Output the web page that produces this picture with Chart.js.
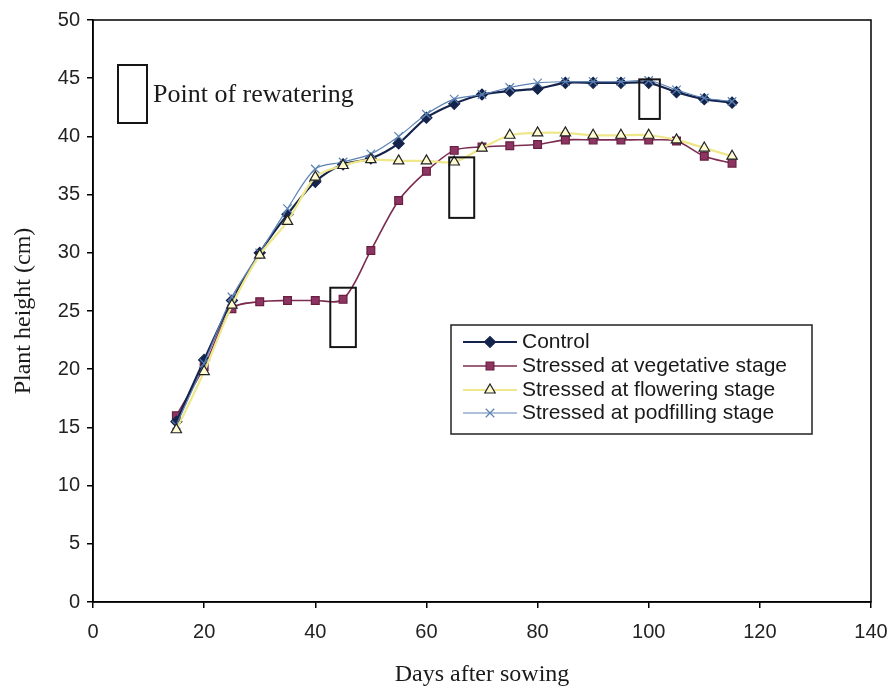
<!DOCTYPE html>
<html>
<head>
<meta charset="utf-8">
<script src="https://cdn.jsdelivr.net/npm/chart.js@4/dist/chart.umd.min.js"></script>
<style>
  html, body { margin: 0; padding: 0; background: #ffffff; }
  #wrap { width: 890px; height: 693px; }
</style>
</head>
<body>
<div id="wrap"><canvas id="chart" width="890" height="693"></canvas></div>
<script>
// Plant height (cm) measured every 5 days after sowing
const days = [15, 20, 25, 30, 35, 40, 45, 50, 55, 60, 65, 70, 75, 80, 85, 90, 95, 100, 105, 110, 115];
const control    = [15.5, 20.8, 25.9, 30.0, 33.3, 36.1, 37.6, 38.1, 39.4, 41.6, 42.8, 43.6, 43.9, 44.1, 44.6, 44.6, 44.6, 44.6, 43.8, 43.2, 42.9];
const vegetative = [16.0, 20.2, 25.2, 25.8, 25.9, 25.9, 26.0, 30.2, 34.5, 37.0, 38.8, 39.1, 39.2, 39.3, 39.7, 39.7, 39.7, 39.7, 39.6, 38.3, 37.7];
const flowering  = [14.8, 19.8, 25.5, 29.8, 32.7, 36.5, 37.5, 38.0, 37.9, 37.9, 37.8, 39.0, 40.1, 40.3, 40.3, 40.1, 40.1, 40.1, 39.7, 39.0, 38.3];
const podfilling = [15.2, 20.5, 26.2, 30.0, 33.8, 37.2, 37.8, 38.5, 40.0, 41.9, 43.2, 43.6, 44.2, 44.6, 44.7, 44.7, 44.7, 44.8, 44.0, 43.3, 43.0];

const seriesNames = ['Control', 'Stressed at vegetative stage', 'Stressed at flowering stage', 'Stressed at podfilling stage'];

// Rewatering windows: day span and height span (cm)
const rewaterDayFrom = [42.7, 64.1, 98.3];
const rewaterDayTo   = [47.3, 68.6, 102.0];
const rewaterLow     = [21.9, 33.0, 41.5];
const rewaterHigh    = [27.0, 38.2, 44.9];
const rewaterLabel = 'Point of rewatering';

const xTitle = 'Days after sowing';
const yTitle = 'Plant height (cm)';

const toPoints = vals => days.map((d, i) => ({ x: d, y: vals[i] }));

const styles = [
  { borderColor: '#15244c', backgroundColor: '#15244c', pointBorderColor: '#15244c', pointStyle: 'rectRot', pointRadius: 5.5, borderWidth: 2.2, order: 2 },
  { borderColor: '#7b2c50', backgroundColor: '#8c3563', pointBorderColor: '#6a1f40', pointStyle: 'rect', pointRadius: 5.5, borderWidth: 1.6, order: 3 },
  { borderColor: '#efe78a', backgroundColor: '#fffbd2', pointBorderColor: '#222222', pointStyle: 'triangle', pointRadius: 6, borderWidth: 2.2, order: 0 },
  { borderColor: '#5d83b5', backgroundColor: '#5d83b5', pointBorderColor: '#5d83b5', pointStyle: 'crossRot', pointRadius: 6, borderWidth: 1.2, order: 1 }
];
const seriesValues = [control, vegetative, flowering, podfilling];

const datasets = seriesValues.map((vals, i) => Object.assign({
  label: seriesNames[i],
  data: toPoints(vals),
  tension: 0.3,
  pointBorderWidth: 1.2,
  fill: false
}, styles[i]));

function drawMarker(ctx, style, cx, cy, r) {
  Chart.helpers.drawPoint(ctx, { pointStyle: style, radius: r, rotation: 0, borderWidth: ctx.lineWidth }, cx, cy);
}

const overlay = {
  id: 'overlay',
  afterDatasetsDraw(chart) {
    const { ctx, chartArea: a, scales: { x, y } } = chart;
    ctx.save();

    // rewatering boxes
    ctx.strokeStyle = '#151515';
    ctx.lineWidth = 2;
    rewaterDayFrom.forEach((d0, i) => {
      const l = x.getPixelForValue(d0), r = x.getPixelForValue(rewaterDayTo[i]);
      const t = y.getPixelForValue(rewaterHigh[i]), b = y.getPixelForValue(rewaterLow[i]);
      ctx.strokeRect(l, t, r - l, b - t);
    });

    // plot frame
    ctx.strokeStyle = '#000';
    ctx.lineWidth = 1.5;
    ctx.strokeRect(a.left, a.top, a.width, a.height);

    // key for the rewatering boxes
    const kx = a.left + 25, ky = a.top + 45;
    ctx.lineWidth = 2;
    ctx.strokeStyle = '#151515';
    ctx.strokeRect(kx, ky, 29, 58);
    ctx.fillStyle = '#1a1a1a';
    ctx.font = '26px "Liberation Serif"';
    ctx.textBaseline = 'middle';
    ctx.textAlign = 'left';
    ctx.fillText(rewaterLabel, kx + 35, ky + 30);

    // series legend
    const lx = a.left + 358, ly = a.top + 305, lw = 361, lh = 109;
    ctx.fillStyle = '#ffffff';
    ctx.fillRect(lx, ly, lw, lh);
    ctx.strokeStyle = '#222';
    ctx.lineWidth = 1.5;
    ctx.strokeRect(lx, ly, lw, lh);
    ctx.font = '21px "Liberation Sans"';
    const rows = [17, 41, 65, 88];
    datasets.forEach((ds, i) => {
      const cy = ly + rows[i];
      ctx.strokeStyle = ds.borderColor;
      ctx.lineWidth = ds.borderWidth;
      ctx.beginPath();
      ctx.moveTo(lx + 12, cy);
      ctx.lineTo(lx + 66, cy);
      ctx.stroke();
      ctx.fillStyle = ds.backgroundColor;
      ctx.strokeStyle = ds.pointBorderColor;
      ctx.lineWidth = ds.pointBorderWidth;
      drawMarker(ctx, ds.pointStyle, lx + 39, cy, ds.pointRadius);
      ctx.fillStyle = '#1a1a1a';
      ctx.fillText(ds.label, lx + 71, cy);
    });
    ctx.restore();
  }
};

const axisFont = { family: '"Liberation Sans", Arial, sans-serif', size: 20 };
const titleFont = { family: '"Liberation Serif", "Times New Roman", serif', size: 24 };

new Chart(document.getElementById('chart'), {
  type: 'line',
  data: { datasets },
  options: {
    responsive: false,
    animation: false,
    devicePixelRatio: 1,
    layout: { padding: { top: 20, right: 19, left: 0, bottom: 0 } },
    plugins: { legend: { display: false }, tooltip: { enabled: false } },
    scales: {
      x: {
        type: 'linear', min: 0, max: 140,
        ticks: { stepSize: 20, font: axisFont, color: '#222', padding: 12, maxRotation: 0 },
        grid: { drawOnChartArea: false, drawTicks: true, tickLength: 6, color: '#000', lineWidth: 1.5 },
        border: { display: true, color: '#000', width: 1.5 },
        title: { display: true, text: xTitle, font: titleFont, color: '#1a1a1a', padding: { top: 4, bottom: 4 } },
        afterFit(scale) { scale.height = 91; scale.paddingLeft = 0; scale.paddingRight = 0; }
      },
      y: {
        min: 0, max: 50,
        ticks: { stepSize: 5, font: axisFont, color: '#222', padding: 7 },
        grid: { drawOnChartArea: false, drawTicks: true, tickLength: 6, color: '#000', lineWidth: 1.5 },
        border: { display: true, color: '#000', width: 1.5 },
        title: { display: true, text: yTitle, font: titleFont, color: '#1a1a1a', padding: { top: 9, bottom: 4 } },
        afterFit(scale) { scale.width = 93; scale.paddingTop = 0; scale.paddingBottom = 0; }
      }
    }
  },
  plugins: [overlay]
});
</script>
</body>
</html>
